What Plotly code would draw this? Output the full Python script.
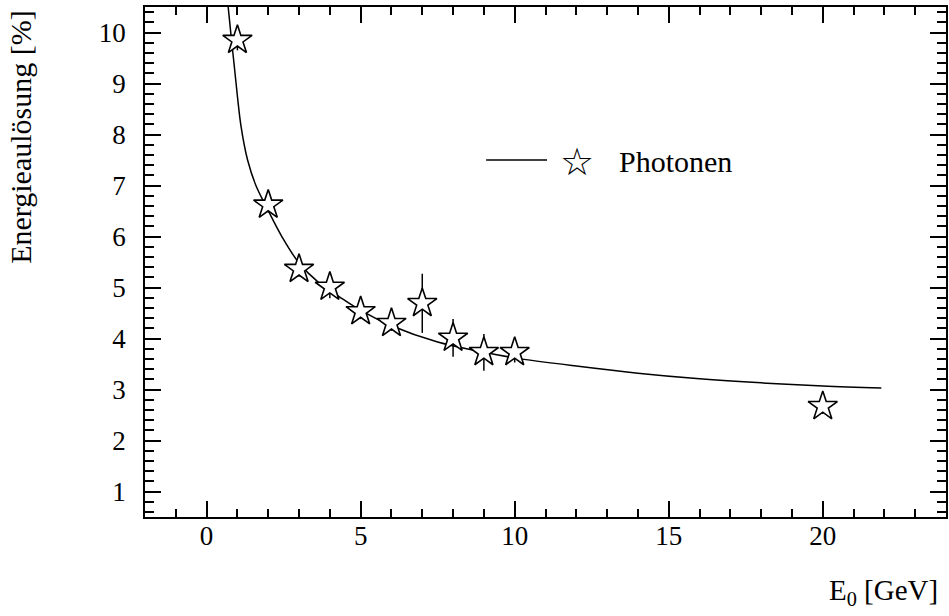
import plotly.graph_objects as go

# Measured energy resolution for photons
energy = [1, 2, 3, 4, 5, 6, 7, 8, 9, 10, 20]
resolution = [9.85, 6.62, 5.36, 5.01, 4.53, 4.30, 4.69, 4.01, 3.73, 3.73, 2.67]
resolution_err = [0.2, 0.15, 0.15, 0.22, 0.15, 0.15, 0.58, 0.37, 0.36, 0.2, 0.15]

# Fitted resolution curve
fit_energy = [0.70, 0.80, 0.90, 1.0, 1.12, 1.33, 1.6, 1.94, 2.46, 3.0, 3.65, 4.3,
              5.0, 6.0, 7.5, 9.0, 10.0, 12.0, 14.0, 16.0, 18.0, 20.0, 21.9]
fit_resolution = [10.5, 9.9, 9.33, 8.75, 8.15, 7.50, 7.0, 6.58, 5.98, 5.48, 5.09, 4.82,
                  4.55, 4.25, 3.93, 3.73, 3.62, 3.46, 3.32, 3.21, 3.13, 3.07, 3.03]

x_ticks = [0, 5, 10, 15, 20]
y_ticks = [1, 2, 3, 4, 5, 6, 7, 8, 9, 10]

SERIF = "Liberation Serif"
PLOT_L, PLOT_R, PLOT_T, PLOT_B = 145, 948, 7, 517
PW, PH = PLOT_R - PLOT_L, PLOT_B - PLOT_T


def px(xp):
    return (xp - PLOT_L) / PW


def py(yp):
    return (PLOT_B - yp) / PH


fig = go.Figure()

fig.add_trace(go.Scatter(
    x=fit_energy, y=fit_resolution, mode="lines",
    line=dict(color="black", width=1.5, shape="spline", smoothing=1.0),
    showlegend=False, hoverinfo="skip",
))

fig.add_trace(go.Scatter(
    x=energy, y=resolution, mode="markers", name="Photonen",
    error_y=dict(type="data", array=resolution_err, visible=True,
                 color="black", thickness=1.5, width=0),
    marker=dict(symbol="star", size=22, color="white",
                line=dict(color="black", width=1.6)),
    showlegend=False,
))

axis_common = dict(
    showgrid=False, zeroline=False, showline=True, linecolor="black", linewidth=1.5,
    mirror="allticks", ticks="inside", ticklen=16, tickwidth=1.5, tickcolor="black",
    tickfont=dict(family=SERIF, size=27, color="black"),
)

fig.update_xaxes(
    range=[-2, 24], tickvals=x_ticks, ticklabelstandoff=-6,
    minor=dict(dtick=1, ticks="inside", ticklen=8, tickwidth=1.5, tickcolor="black"),
    **axis_common,
)
fig.update_yaxes(
    range=[0.5, 10.5], tickvals=y_ticks, ticklabelstandoff=12,
    minor=dict(dtick=0.2, ticks="inside", ticklen=9, tickwidth=1.5, tickcolor="black"),
    **axis_common,
)

# Legend key: line sample, star symbol and label
fig.add_shape(type="line", xref="paper", yref="paper",
              x0=px(487), x1=px(548), y0=py(160), y1=py(160),
              line=dict(color="black", width=1.5))

fig.update_layout(
    width=949, height=616,
    margin=dict(l=PLOT_L, r=949 - PLOT_R, t=PLOT_T, b=616 - PLOT_B),
    paper_bgcolor="white", plot_bgcolor="white",
    showlegend=False,
    annotations=[
        dict(text="☆", xref="paper", yref="paper", x=px(578), y=py(162),
             xanchor="center", yanchor="middle", showarrow=False,
             font=dict(family="DejaVu Sans", size=38, color="black")),
        dict(text="Photonen", xref="paper", yref="paper", x=px(618), y=py(161),
             xanchor="left", yanchor="middle", showarrow=False,
             font=dict(family=SERIF, size=30, color="black")),
        dict(text="Energieaulösung [%]", textangle=-90, xref="paper", yref="paper",
             x=px(1), y=py(8), xanchor="left", yanchor="top", showarrow=False,
             font=dict(family=SERIF, size=30, color="black")),
        dict(text="E<sub>0</sub> [GeV]", xref="paper", yref="paper",
             x=px(942), y=py(572), xanchor="right", yanchor="top",
             showarrow=False, font=dict(family=SERIF, size=29, color="black")),
    ],
)

fig.write_html("out.html")
